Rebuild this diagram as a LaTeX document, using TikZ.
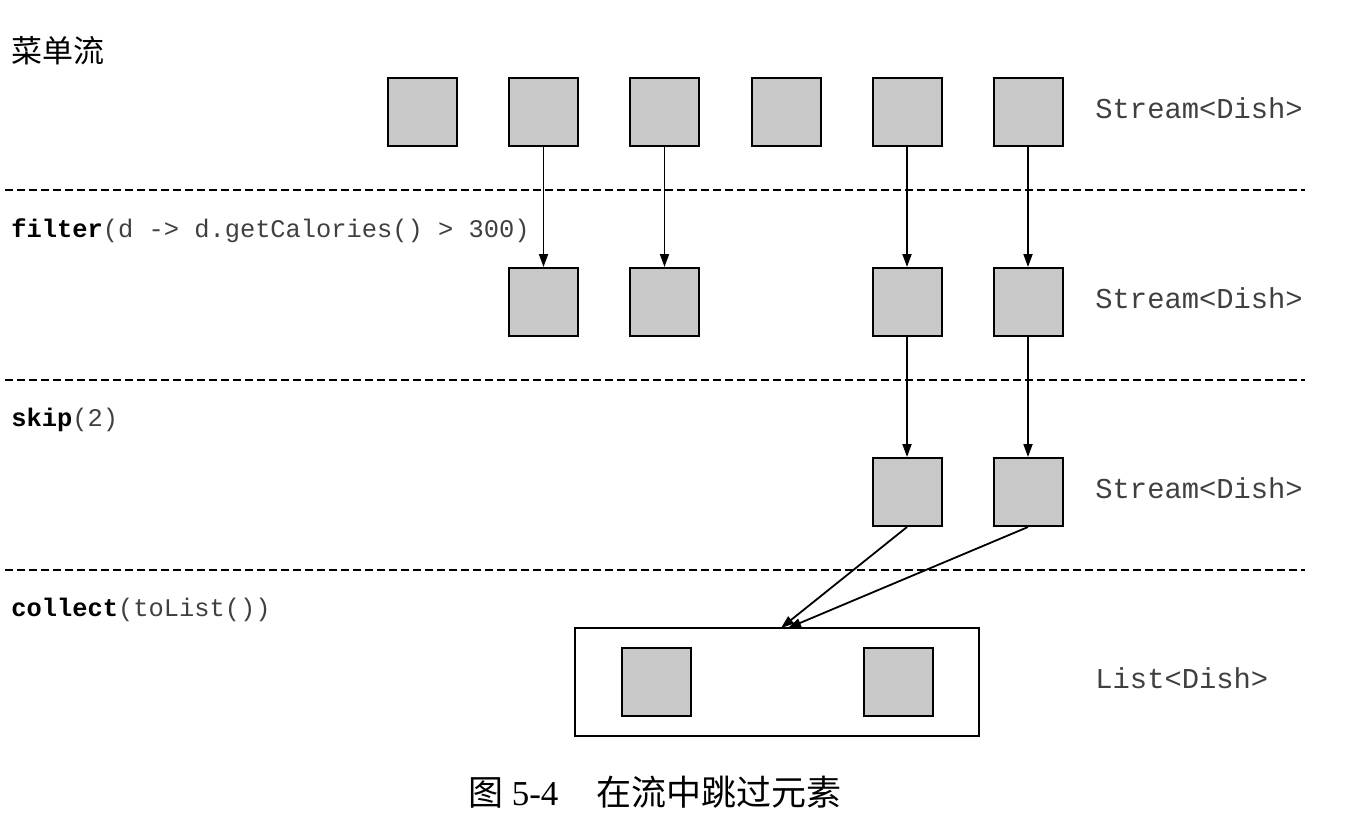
\documentclass[tikz,border=0pt]{standalone}
\usepackage{fontspec}
\setmainfont{Liberation Serif}
\setmonofont{Liberation Mono}
\newfontfamily\cjk{Noto Sans CJK SC}
\usetikzlibrary{arrows.meta}
\definecolor{boxgray}{HTML}{C8C8C8}
\tikzset{
  sq/.style={draw, line width=1pt, fill=boxgray, minimum width=34.5pt, minimum height=34pt, inner sep=0pt},
  flow/.style={line width=0.9pt, -{Triangle[length=6.5pt,width=4.5pt]}},
  sep/.style={line width=0.75pt, dash pattern=on 4pt off 2pt},
  code/.style={font=\ttfamily\fontsize{12.7}{15}\selectfont, inner sep=0pt, anchor=base west},
  typ/.style={font=\ttfamily\fontsize{14.4}{16}\selectfont, text=black!75, inner sep=0pt, anchor=base west}
}
\begin{document}
\begin{tikzpicture}[x=0.5pt,y=-0.5pt]
\useasboundingbox (0,0) rectangle (1359,835);
% title
\node[anchor=west, inner sep=0pt, font=\cjk\fontsize{15.5}{18}\selectfont] (title) at (11,51) {菜单流};
% separators
\coordinate (s1a) at (5,190); \coordinate (s1b) at (1305,190);
\coordinate (s2a) at (5,380); \coordinate (s2b) at (1305,380);
\coordinate (s3a) at (5,570); \coordinate (s3b) at (1305,570);
\draw[sep] (s1a) -- (s1b);
\draw[sep] (s2a) -- (s2b);
\draw[sep] (s3a) -- (s3b);
% row 1
\node[sq] (a1) at (422.5,112) {};
\node[sq] (a2) at (543.5,112) {};
\node[sq] (a3) at (664.5,112) {};
\node[sq] (a4) at (786,112) {};
\node[sq] (a5) at (907,112) {};
\node[sq] (a6) at (1028,112) {};
% row 2
\node[sq] (b2) at (543.5,302) {};
\node[sq] (b3) at (664.5,302) {};
\node[sq] (b5) at (907,302) {};
\node[sq] (b6) at (1028,302) {};
% row 3
\node[sq] (c5) at (907,492) {};
\node[sq] (c6) at (1028,492) {};
% list
\node[draw, line width=1pt, minimum width=202pt, minimum height=54pt, inner sep=0pt] (list) at (777,682) {};
\node[sq] (d1) at (656,682) {};
\node[sq] (d2) at (898,682) {};
\coordinate (t1) at (781,628);
\coordinate (t2) at (788,628);
% arrows
\draw[flow] (a2.south) -- (b2.north);
\draw[flow] (a3.south) -- (b3.north);
\draw[flow] (a5.south) -- (b5.north);
\draw[flow] (a6.south) -- (b6.north);
\draw[flow] (b5.south) -- (c5.north);
\draw[flow] (b6.south) -- (c6.north);
\draw[flow] (c5.south) -- (t1);
\draw[flow] (c6.south) -- (t2);
% labels
\node[typ] (l1) at (1095,118) {Stream<Dish>};
\node[typ] (l2) at (1095,308) {Stream<Dish>};
\node[typ] (l3) at (1095,498) {Stream<Dish>};
\node[typ] (l4) at (1095,688) {List<Dish>};
\node[code] (op1) at (11,237) {\textbf{filter}\textcolor{black!75}{(d -> d.getCalories() > 300)}};
\node[code] (op2) at (11,426) {\textbf{skip}\textcolor{black!75}{(2)}};
\node[code] (op3) at (11,616) {\textbf{collect}\textcolor{black!75}{(toList())}};
% caption
\node[inner sep=0pt, font=\fontsize{17.5}{20}\selectfont] (cap) at (655,792) {{\cjk 图} 5-4\hspace{1.1em}{\cjk 在流中跳过元素}};
\end{tikzpicture}
\end{document}
